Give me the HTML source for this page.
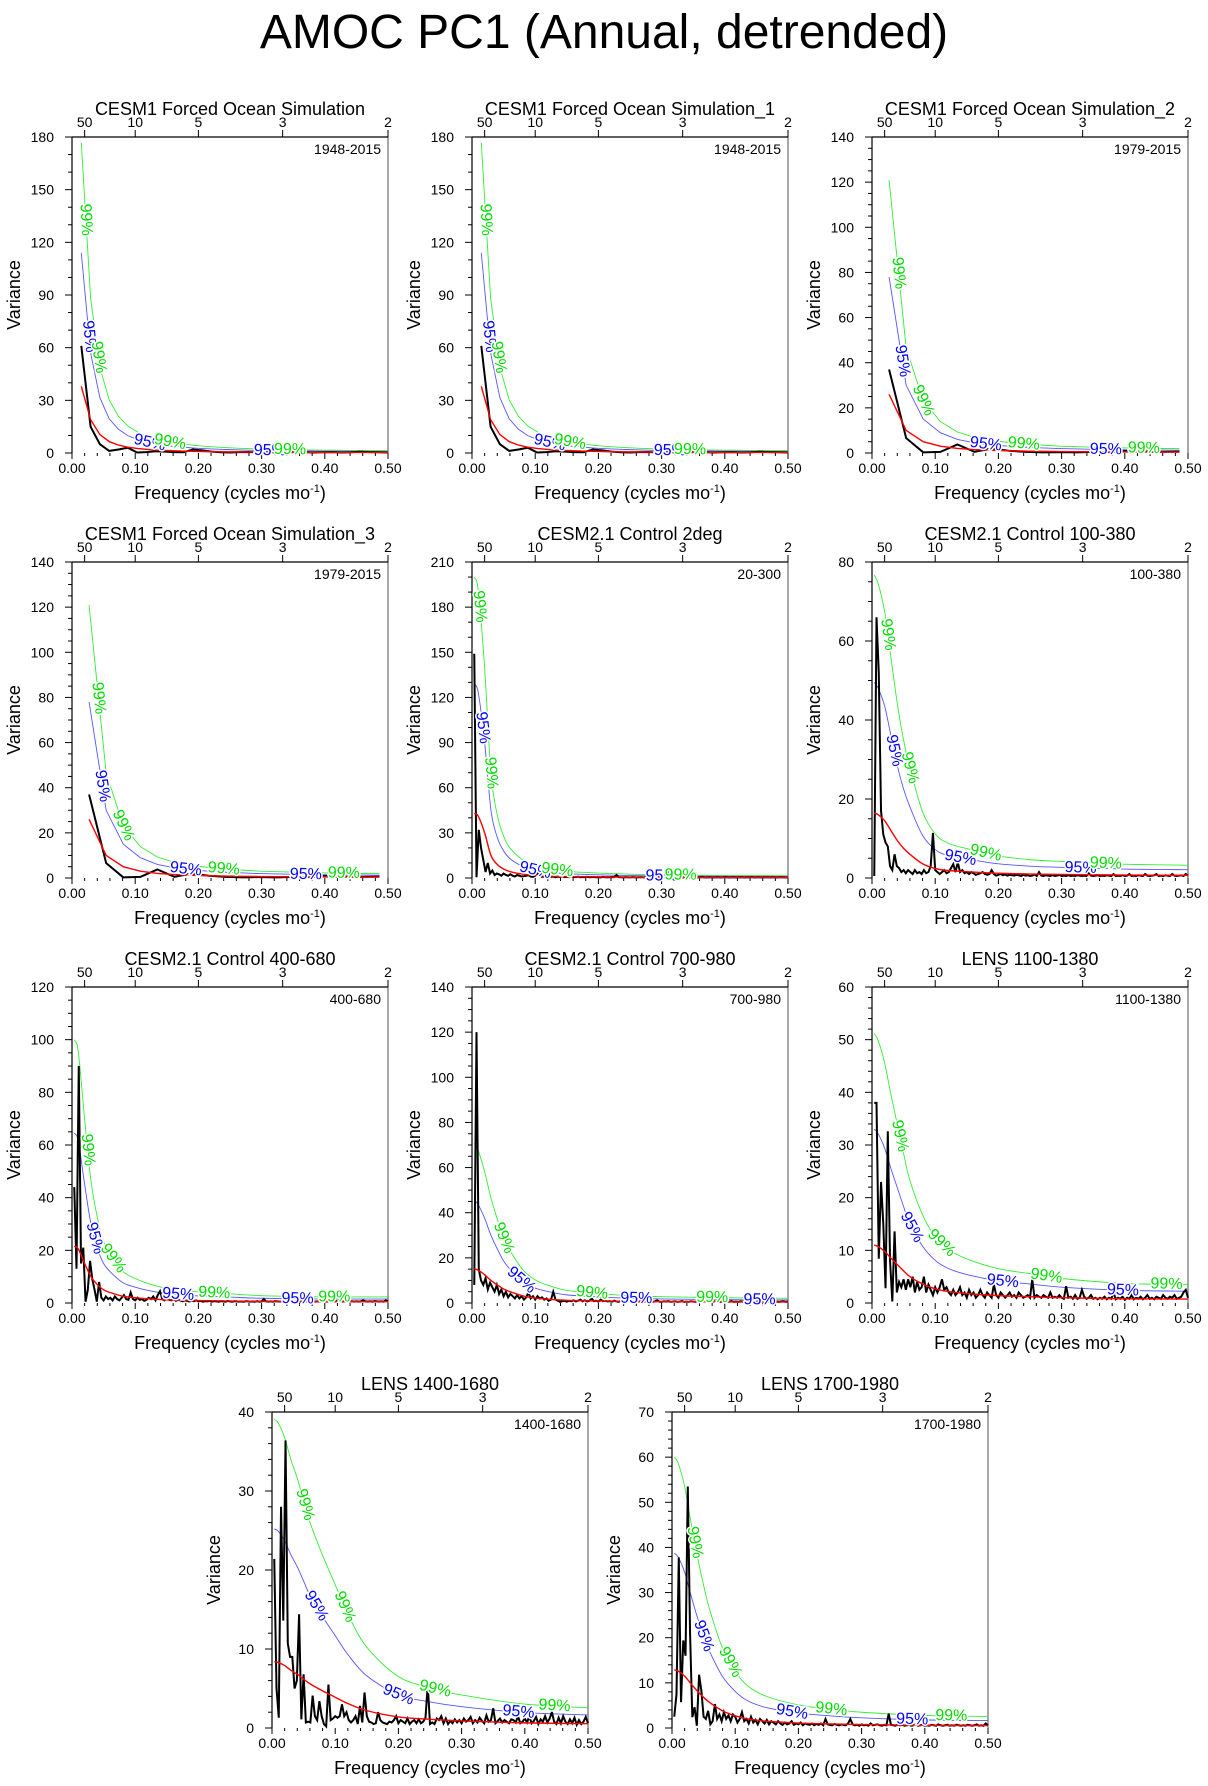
<!DOCTYPE html>
<html><head><meta charset="utf-8"><title>AMOC PC1 (Annual, detrended)</title>
<style>
html,body{margin:0;padding:0;background:#fff;}
svg{display:block;font-family:"Liberation Sans",Arial,sans-serif;}
</style></head>
<body>
<svg id="fig" width="1208" height="1786" viewBox="0 0 1208 1786" xmlns="http://www.w3.org/2000/svg">
<text x="604" y="48" text-anchor="middle" font-size="48">AMOC PC1 (Annual, detrended)</text>
</svg>
<script>
// ---- data: black spectra (short records) ----
const black1 = [61,15,5,1.2,2,3,0.3,0.5,1,0.8,0.5,0.4,2,1.5,0.8,0.4,0.3,0.5,0.6,0.3,0.5,0.4,0.3,0.6,0.5,0.3,0.4,0.5,0.3,0.4,0.7,0.5,0.4,0.3];
const red1 = [38,19,10.5,6.5,4.5,3.3,2.6,2.1,1.7,1.45,1.25,1.1,0.95,0.85,0.77,0.7,0.64,0.58,0.54,0.5,0.47,0.44,0.42,0.4,0.38,0.36,0.35,0.34,0.33,0.32,0.31,0.3,0.3,0.29];
const black3 = [37,6.6,0.3,0.5,3.8,0.5,2,1,0.5,0.3,0.4,0.3,0.5,0.4,1,0.6,0.5,0.6];
const red3 = [26,10,5,3,2,1.5,1.2,1,0.85,0.75,0.65,0.6,0.55,0.5,0.48,0.45,0.43,0.42];
// ---- data: black spectra (280-yr records, step 1/280) ----
const black5 = [149,0.5,32,20,12,4,10,3,5,2,3,2.5,1.5,3,2,1.5,2.5,1.5,1,2,1.5,1,1.2,1.5,2,1,0.8,1.5,3,1.2,0.8,1,0.6,1.2,0.8,1,0.5,0.9,0.7,1.1,0.6,0.8,0.5,1,0.7,0.6,0.9,0.5,0.7,0.6,0.8,0.5,0.6,0.7,0.5,0.6,0.4,0.7,0.5,0.6,0.5,0.7,0.6,2,0.6,0.5,0.4,0.6,0.5,0.4,0.6,0.5,0.4,0.5,0.6,0.4,0.5,0.3,0.5,0.4,0.6,0.5,0.4,0.5,0.3,0.4,0.5,0.4,0.3,0.5,0.4,0.3,0.5,0.4,0.6,0.3,0.4,0.5,0.3,0.4,0.5,0.6,0.4,0.3,0.5,0.4,0.3,0.4,0.5,0.3,0.4,0.6,0.5,0.3,0.4,0.5,0.3,0.4,0.5,0.4,0.3,0.5,0.4,0.6,0.3,0.4,0.5,0.3,0.4,0.5,0.4,0.3,0.5,0.4,0.3,0.4,0.5,0.4,0.3,0.4];
const black6 = [0.5,66,52,17,11,9,8,3,2,6,3,2.5,1.5,2,1.2,2,1.5,1,2,1.2,1.5,1,2,1.2,1.5,3,11.4,2,1.5,1,1.5,2,1.2,1.5,2.5,3.5,1.5,4,1.5,2,1.2,1.5,1,1.5,1.2,0.8,1,1.2,1.5,1,0.8,1,2,1,0.6,0.8,1,0.7,0.9,0.6,0.8,0.7,0.6,0.8,0.7,0.5,0.8,0.6,0.7,0.5,0.6,0.9,0.5,1.5,0.6,0.5,0.7,0.6,0.5,0.7,0.5,0.6,0.8,0.5,0.6,0.5,0.7,0.5,0.6,0.5,0.7,0.6,0.5,0.6,0.5,1.2,0.6,0.5,0.6,0.7,0.5,0.6,0.5,0.7,0.6,0.5,1,0.5,0.6,0.5,0.7,0.5,0.6,1,0.5,0.6,0.5,0.7,0.6,0.5,1,0.6,0.5,0.6,0.7,1,0.5,0.6,0.5,0.7,0.6,0.5,1,0.6,0.5,0.6,0.7,0.5,1,0.6];
const black7 = [44,13,90,15,21,0.5,5,16,9,5,0.5,8,2,1,2.5,1.5,2,1,2.5,1.5,1,2,3,1.5,1.2,4,1.5,1,2,1.2,1.5,0.8,1.2,2,1.5,2.5,1,3,4.5,1.5,1,2,1.2,1,1.5,0.8,1.2,1,0.7,1,0.8,0.6,0.9,0.7,1,0.6,0.8,0.5,0.7,0.6,0.8,0.5,0.7,0.6,0.5,0.7,0.6,0.5,0.8,0.6,0.5,0.7,0.6,0.5,0.6,0.5,0.7,0.6,0.5,0.6,0.5,0.7,0.5,0.6,1.5,0.6,0.5,0.6,0.5,0.7,0.6,0.5,0.6,0.5,0.7,0.5,0.6,0.5,0.6,0.7,0.5,0.6,0.5,0.6,0.5,0.7,0.6,0.5,0.6,0.5,0.7,0.6,0.5,0.6,0.5,0.6,0.7,0.5,0.6,0.5,0.6,0.5,0.7,0.6,0.5,0.6,0.5,0.6,1,0.6,0.5,0.6,0.5,0.7,0.6,0.5,0.6,0.5,1,0.6];
const black8 = [8,120,15,10,8,11,6,9,7,5,8,4,6,3,5,2.5,4,3,2,3.5,2,3,1.5,2.5,4.7,2,3,1.5,3,2,2.5,1.5,2,1,1.5,5,1.5,1,0.5,0.8,1,0.6,1,0.8,1.2,0.7,1,1.5,0.8,1.2,0.7,1,2,0.8,1,0.6,1.5,0.8,1,0.7,0.8,0.6,1,0.7,0.5,1.2,0.8,0.6,1,0.7,0.5,0.8,1.5,0.6,0.7,0.5,0.8,0.6,0.9,0.5,0.7,1.2,0.6,0.5,0.7,0.6,0.8,0.5,0.6,0.7,0.5,0.6,0.8,0.5,0.6,0.5,0.7,0.6,0.5,0.8,0.6,0.5,0.7,0.6,0.5,0.6,0.8,0.5,0.6,0.5,0.7,0.6,0.5,0.6,0.8,0.5,0.6,0.5,0.7,0.6,0.5,0.6,0.5,0.7,0.6,0.5,0.6,0.5,0.7,0.6,0.5,0.6,0.7,0.5,0.6,0.5,0.6,0.7,0.5,0.6];
const black9 = [38,38,8.4,23,15,2.8,32.6,8,0.3,13.6,2,4,3,4.5,2.5,4.5,3,5,2,4,2.5,3,5,2,3.5,2.5,1.5,3,2,3,4.5,2.5,3,2,1.5,2.5,1.5,2,3,1.5,2,1,2.5,1.5,2,1,1.5,2.5,1.5,1,2,1.5,1,3.5,1.5,1,2,1.5,1,1.5,2,1.2,1.5,1,2,1.5,1,1.2,1.5,1,4.5,1,1.5,1.2,1,1.5,1.2,1,2,1,1.2,1,1.5,1,0.8,3.2,1,1.2,0.8,1.5,0.8,1,2.5,1.2,0.8,1,1.5,0.8,1,0.7,1,0.8,1.2,0.7,1,0.8,2,0.7,1,0.8,1.2,0.6,1,0.8,1.5,0.7,1,0.8,1.2,0.7,1,1.5,0.8,1,0.7,1.2,1,0.8,1.5,1,0.8,1.2,1,1.5,0.8,1,1.2,2,2.5,1];
const black10 = [21.4,5,1.3,28,13.6,36.4,10.7,9,9,5,6,14.4,1.1,6.8,0.7,0.8,0.7,4.1,1.5,1,3.4,1.5,0.5,0.2,5.5,1,1.2,1.5,1.3,1.5,3,1.5,2,1,0.7,1,1.5,0.5,2.8,0.7,4.5,1.5,0.8,0.7,0.5,0.6,2,1,0.7,0.6,0.5,0.8,0.7,1,1.5,0.6,1,0.8,0.6,1.2,0.5,0.8,1,0.6,1.1,0.6,0.8,1.3,5.5,0.5,0.7,0.5,1.2,1,1.5,0.6,1.2,0.5,0.9,0.6,1.1,0.7,1,0.6,1.2,0.8,1,1.4,0.6,1,0.7,1.3,0.9,0.6,1.6,0.8,1,2.5,0.6,0.9,1.2,0.7,1,0.8,0.6,1.1,1,0.7,1.5,0.6,0.8,1.2,0.7,1.5,0.6,0.9,1.4,0.5,1.1,0.8,1.5,0.7,1.2,2,0.8,0.5,1.3,0.6,1.5,0.8,0.5,1.1,0.6,1.3,0.4,1,0.5,0.8,1.4,0.6];
const black11 = [2.5,7.5,37.8,5.7,19.4,16,53.5,21,2.4,4.6,0.5,11.8,8.3,2.5,2,3.8,0.8,1.5,5.3,2,3,1.5,3.5,2,2.8,1.5,3,2.5,1.2,2,3.5,1.5,2,1,2.5,1.2,1.8,0.8,2,1.5,1,1.8,0.8,1.5,1.2,0.8,1.5,1,0.7,1.2,0.8,1,1.5,0.7,1,0.8,1.2,0.6,1,0.8,0.7,1,0.6,0.9,0.7,1,0.6,2,0.8,0.7,0.6,0.9,0.7,0.6,0.8,0.7,0.6,1,2,0.8,0.6,0.7,0.5,0.8,0.6,0.7,0.5,1,0.6,0.7,0.8,0.6,0.5,0.7,0.6,3.2,0.7,0.6,0.5,0.8,0.6,0.7,0.5,0.6,0.7,0.5,0.6,0.8,0.5,0.6,0.7,0.5,0.6,0.5,0.7,0.6,0.5,0.8,0.6,0.5,0.6,0.7,0.5,0.6,0.5,0.7,0.6,0.5,0.6,0.5,0.7,0.6,0.5,0.6,0.8,0.5,0.6,0.5,1,0.6];
// ---- data: red-noise spectra for long records ----
const redFreq = [0.0036,0.01,0.02,0.03,0.04,0.05,0.06,0.08,0.1,0.12,0.15,0.2,0.25,0.3,0.4,0.5];
const red5 = [43,41,30,15,9,6,4.3,2.6,1.7,1.3,0.95,0.7,0.55,0.45,0.37,0.33];
const red6 = [16.5,16,14.5,12,9.5,7.5,6,3.6,2.4,1.9,1.6,1.2,1,0.9,0.75,0.7];
const red7 = [21.5,20.5,15,10,7,5,4,2.6,2,1.6,1.2,0.9,0.75,0.6,0.5,0.5];
const red8 = [15.2,14.5,12.5,10,8,6.2,5,3.2,2.2,1.7,1.2,0.9,0.7,0.6,0.5,0.45];
const red9 = [11,10.7,9.8,8.5,7.3,6.1,5,3.6,2.7,2.2,1.8,1.4,1.2,1,0.8,0.75];
const red10 = [8.4,8.3,7.9,7.3,6.8,6.2,5.6,4.7,3.9,3.1,2.2,1.4,1.1,0.9,0.65,0.55];
const red11 = [12.9,12.6,11.5,9.8,8.2,6.8,5.6,3.8,2.7,2,1.5,1.1,0.9,0.75,0.6,0.55];
// significance multipliers (chi-square, 2 dof)
const factor95 = 3.0;
const factor99 = 4.65;
// axis ticks
const xTicks = [0,0.1,0.2,0.3,0.4,0.5];
const xTickLabels = ["0.00","0.10","0.20","0.30","0.40","0.50"];
const periodTicks = [50,10,5,3,2];
// label frequencies
const lab99_1 = [0.022,0.042,0.155,0.345], lab95_1 = [0.027,0.123,0.313];
const lab99_3 = [0.042,0.081,0.24,0.43], lab95_3 = [0.048,0.18,0.37];
const lab99_5 = [0.012,0.03,0.135,0.33], lab95_5 = [0.017,0.1,0.3];
const lab99_6 = [0.025,0.06,0.18,0.37], lab95_6 = [0.035,0.14,0.33];
const lab99_7 = [0.025,0.065,0.225,0.415], lab95_7 = [0.036,0.168,0.357];
const lab99_8 = [0.05,0.19,0.38], lab95_8 = [0.078,0.26,0.455];
const lab99_9 = [0.044,0.11,0.276,0.466], lab95_9 = [0.063,0.207,0.397];
const lab99_10 = [0.052,0.115,0.258,0.447], lab95_10 = [0.07,0.2,0.39];
const lab99_11 = [0.036,0.092,0.252,0.442], lab95_11 = [0.05,0.19,0.38];

const panels = [
 {t:"CESM1 Forced Ocean Simulation",p:"1948-2015",x:72,y:137,ymax:180,ys:30,ym:3,b:black1,df:1/68,r:red1,rf:null,l99:lab99_1,l95:lab95_1},
 {t:"CESM1 Forced Ocean Simulation_1",p:"1948-2015",x:472,y:137,ymax:180,ys:30,ym:3,b:black1,df:1/68,r:red1,rf:null,l99:lab99_1,l95:lab95_1},
 {t:"CESM1 Forced Ocean Simulation_2",p:"1979-2015",x:872,y:137,ymax:140,ys:20,ym:4,b:black3,df:1/37,r:red3,rf:null,l99:lab99_3,l95:lab95_3},
 {t:"CESM1 Forced Ocean Simulation_3",p:"1979-2015",x:72,y:562,ymax:140,ys:20,ym:4,b:black3,df:1/37,r:red3,rf:null,l99:lab99_3,l95:lab95_3},
 {t:"CESM2.1 Control 2deg",p:"20-300",x:472,y:562,ymax:210,ys:30,ym:3,b:black5,df:1/280,r:red5,rf:redFreq,l99:lab99_5,l95:lab95_5},
 {t:"CESM2.1 Control 100-380",p:"100-380",x:872,y:562,ymax:80,ys:20,ym:4,b:black6,df:1/280,r:red6,rf:redFreq,l99:lab99_6,l95:lab95_6},
 {t:"CESM2.1 Control 400-680",p:"400-680",x:72,y:987,ymax:120,ys:20,ym:4,b:black7,df:1/280,r:red7,rf:redFreq,l99:lab99_7,l95:lab95_7},
 {t:"CESM2.1 Control 700-980",p:"700-980",x:472,y:987,ymax:140,ys:20,ym:4,b:black8,df:1/280,r:red8,rf:redFreq,l99:lab99_8,l95:lab95_8},
 {t:"LENS 1100-1380",p:"1100-1380",x:872,y:987,ymax:60,ys:10,ym:5,b:black9,df:1/280,r:red9,rf:redFreq,l99:lab99_9,l95:lab95_9},
 {t:"LENS 1400-1680",p:"1400-1680",x:272,y:1412,ymax:40,ys:10,ym:5,b:black10,df:1/280,r:red10,rf:redFreq,l99:lab99_10,l95:lab95_10},
 {t:"LENS 1700-1980",p:"1700-1980",x:672,y:1412,ymax:70,ys:10,ym:5,b:black11,df:1/280,r:red11,rf:redFreq,l99:lab99_11,l95:lab95_11}
];

const NS="http://www.w3.org/2000/svg";
const svg=document.getElementById('fig');
const PW=316, PH=316;
function mk(tag,attrs,parent){const e=document.createElementNS(NS,tag);for(const k in attrs)e.setAttribute(k,attrs[k]);parent.appendChild(e);return e;}
function catmull(pts){
  let d="M"+pts[0][0].toFixed(2)+","+pts[0][1].toFixed(2);
  for(let i=0;i<pts.length-1;i++){
    const p0=pts[Math.max(0,i-1)],p1=pts[i],p2=pts[i+1],p3=pts[Math.min(pts.length-1,i+2)];
    const c1=[p1[0]+(p2[0]-p0[0])/6,p1[1]+(p2[1]-p0[1])/6];
    const c2=[p2[0]-(p3[0]-p1[0])/6,p2[1]-(p3[1]-p1[1])/6];
    d+=" C"+c1[0].toFixed(2)+","+c1[1].toFixed(2)+" "+c2[0].toFixed(2)+","+c2[1].toFixed(2)+" "+p2[0].toFixed(2)+","+p2[1].toFixed(2);
  }
  return d;
}
function linpath(pts){return "M"+pts.map(p=>p[0].toFixed(2)+","+p[1].toFixed(2)).join(" L");}

panels.forEach((P,pi)=>{
  const g=mk('g',{},svg);
  
  
  const X=f=>P.x+f/0.5*PW;
  const Y=v=>P.y+PH-v/P.ymax*PH;
  const cx=P.x+PW/2;
  const tt=mk('text',{x:cx,y:P.y-22,'text-anchor':'middle','font-size':18},g);
  tt.textContent=P.t;
  
  
  const pl=mk('text',{x:P.x+PW-7,y:P.y+17,'text-anchor':'end','font-size':14},g);
  pl.textContent=P.p;
  
  
  const ya=mk('g',{},g);
  
  
  for(let v=0;v<=P.ymax+1e-9;v+=P.ys){
    mk('line',{x1:P.x-7,x2:P.x,y1:Y(v),y2:Y(v),stroke:'#000','stroke-width':1},ya);
    const tl=mk('text',{x:P.x-18,y:Y(v)+5,'text-anchor':'end','font-size':14},ya);
    tl.textContent=String(v);
    
    
    if(v+P.ys<=P.ymax+1e-9){
      for(let m=1;m<P.ym;m++){const vv=v+m*P.ys/P.ym;mk('line',{x1:P.x-4,x2:P.x,y1:Y(vv),y2:Y(vv),stroke:'#000','stroke-width':1},ya);}
    }
  }
  const yt=mk('text',{x:0,y:0,'text-anchor':'middle','font-size':18,transform:'translate('+(P.x-52)+','+(P.y+PH/2)+') rotate(-90)'},ya);
  yt.textContent='Variance';
  
  
  const xa=mk('g',{},g);
  
  
  xTicks.forEach((f,i)=>{
    mk('line',{x1:X(f),x2:X(f),y1:P.y+PH,y2:P.y+PH+6,stroke:'#000','stroke-width':1},xa);
    const tl=mk('text',{x:X(f),y:P.y+PH+20,'text-anchor':'middle','font-size':14},xa);
    tl.textContent=xTickLabels[i];
    
    
  });
  for(let k=1;k<25;k++){if(k%5===0)continue;const f=k*0.02;mk('line',{x1:X(f),x2:X(f),y1:P.y+PH,y2:P.y+PH+3,stroke:'#000','stroke-width':1},xa);}
  const xt=mk('text',{x:cx,y:P.y+PH+46,'text-anchor':'middle','font-size':18},xa);
  xt.innerHTML='Frequency (cycles mo<tspan dy="-7" font-size="11">-1</tspan><tspan dy="7">)</tspan>';
  
  
  const ta=mk('g',{},g);
  
  
  periodTicks.forEach(p=>{
    const f=1/p;
    mk('line',{x1:X(f),x2:X(f),y1:P.y-7,y2:P.y,stroke:'#000','stroke-width':1},ta);
    const tl=mk('text',{x:X(f),y:P.y-10,'text-anchor':'middle','font-size':14},ta);
    tl.textContent=String(p);
    
    
  });
  mk('line',{x1:P.x+PW,x2:P.x+PW,y1:P.y,y2:P.y+PH,stroke:'#888','stroke-width':1.5},g);
  mk('line',{x1:P.x,x2:P.x+PW,y1:P.y,y2:P.y,stroke:'#000','stroke-width':1.2},g);
  mk('line',{x1:P.x,x2:P.x,y1:P.y,y2:P.y+PH,stroke:'#000','stroke-width':1.2},g);
  const rfreq=P.rf?P.rf:P.r.map((v,i)=>(i+1)*P.df);
  const mkPts=fac=>rfreq.map((f,i)=>[X(f),Y(P.r[i]*fac)]);
  const pathFn=P.rf?catmull:linpath;
  const c99=mk('path',{d:pathFn(mkPts(factor99)),fill:'none',stroke:'#33ee33','stroke-width':0.9},g);
  
  
  const c95=mk('path',{d:pathFn(mkPts(factor95)),fill:'none',stroke:'#5555ff','stroke-width':0.9},g);
  
  
  const bpts=P.b.map((v,i)=>[X((i+1)*P.df),Y(v)]);
  const bl=mk('path',{d:linpath(bpts),fill:'none',stroke:'#000','stroke-width':2,'stroke-linejoin':'miter'},g);
  
  
  const rl=mk('path',{d:pathFn(mkPts(1)),fill:'none',stroke:'#ff0000','stroke-width':1.4},g);
  
  
  function valAt(f,fac){
    if(f<=rfreq[0])return P.r[0]*fac;
    for(let i=0;i<rfreq.length-1;i++){if(f<=rfreq[i+1]){const t=(f-rfreq[i])/(rfreq[i+1]-rfreq[i]);return (P.r[i]+t*(P.r[i+1]-P.r[i]))*fac;}}
    return P.r[P.r.length-1]*fac;
  }
  function addLabels(arr,fac,txt,col,name){
    arr.forEach(f=>{
      const px=X(f),py=Y(valAt(f,fac));
      const x1=X(f-0.004),y1=Y(valAt(f-0.004,fac)),x2=X(f+0.004),y2=Y(valAt(f+0.004,fac));
      const ang=Math.atan2(y2-y1,x2-x1)*180/Math.PI;
      const lt=mk('text',{x:0,y:0,'text-anchor':'middle','dominant-baseline':'central','font-size':16,fill:col,stroke:'#fff','stroke-width':3,'paint-order':'stroke',transform:'translate('+px.toFixed(1)+','+py.toFixed(1)+') rotate('+ang.toFixed(1)+')'},g);
      lt.textContent=txt;
      
      
    });
  }
  addLabels(P.l95,factor95,'95%','#0000ff','label-95pct');
  addLabels(P.l99,factor99,'99%','#00dd00','label-99pct');
});
</script>
</body></html>
